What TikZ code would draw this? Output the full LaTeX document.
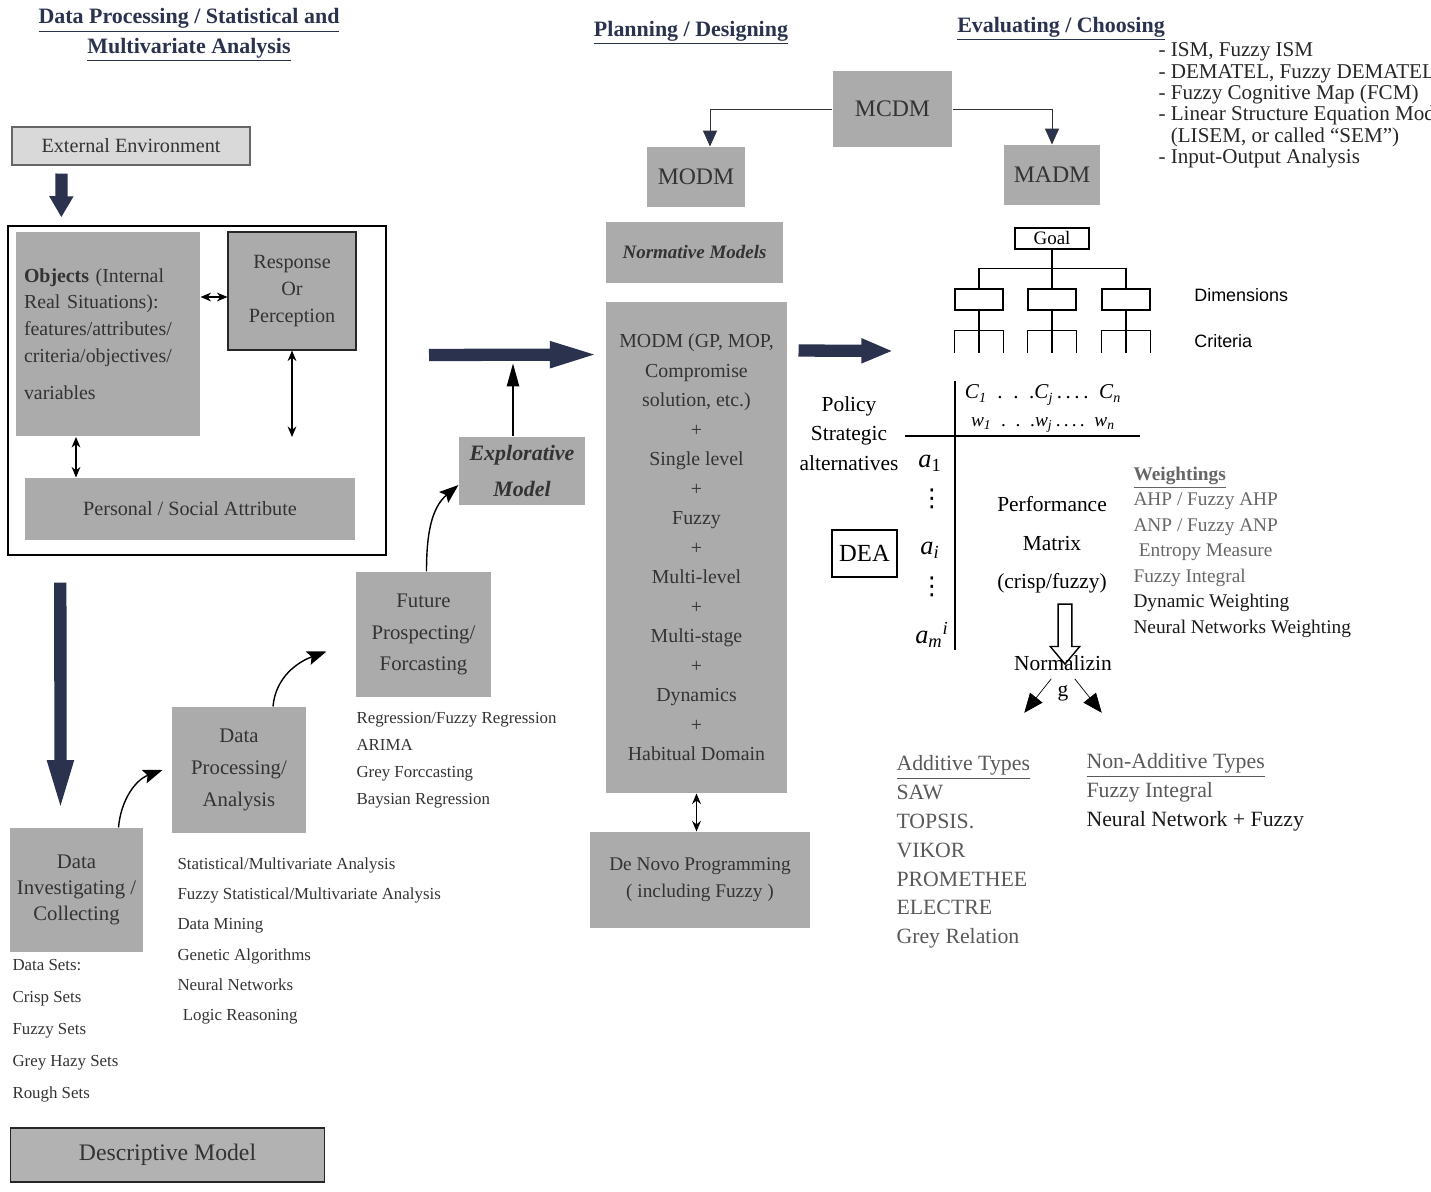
\documentclass[tikz,border=0pt]{standalone}
\usepackage{fontspec}
\setmainfont{Liberation Serif}
\newfontfamily\labelsans{Liberation Sans}
\newfontfamily\dotsfont{DejaVu Sans}
\usetikzlibrary{arrows.meta,positioning,calc,shapes.arrows}
\definecolor{navy}{RGB}{42,50,78}
\newcommand{\isub}[2]{\textit{#1}\textsubscript{\textit{#2}}}

\begin{document}
\begin{tikzpicture}[x=0.02cm, y=-0.02cm, >=Stealth, semithick,
    heading/.style={font=\fontsize{12.5}{17}\selectfont\bfseries, text=navy, align=center},
    shaded/.style={fill=black!33, text=black!80, inner sep=0pt, align=center,
      font=\fontsize{11.5}{15.5}\selectfont},
    framed/.style={shaded, draw=black!85},
    plainbox/.style={draw=black, inner sep=0pt},
    listing/.style={anchor=west, align=left, inner sep=0pt, text=black!80},
    rowlabel/.style={inner sep=0pt, font=\fontsize{15}{17}\selectfont},
    rowdots/.style={inner sep=0pt, font=\dotsfont\fontsize{14}{16}\selectfont},
    bigarrow/.style={line width=7pt, draw=navy, -{Triangle[length=#1,width=13pt]}},
    bigarrow/.default=12pt,
    dblarrow/.style={thick, {Stealth[length=6pt,width=5pt]}-{Stealth[length=6pt,width=5pt]}},
    curvearrow/.style={thick, -{Stealth[length=11pt,width=8pt,inset=2pt]}},
    treearrow/.style={thin, draw=black!80, -{Triangle[length=9pt,width=8pt,fill=navy]}},
    splitarrow/.style={thin, -{Triangle[length=11pt,width=9pt]}},
    hollowarrow/.style={single arrow, draw, thick, fill=white, shape border rotate=270,
      inner sep=3.5pt, single arrow head extend=4.5pt, single arrow tip angle=80,
      minimum height=1.2cm}]
  \useasboundingbox (0,0) rectangle (1431,1192);
  \clip (0,0) rectangle (1431,1192);

  % headings
  \node[heading] at (189,35) (hdata) {\underline{Data Processing / Statistical and}\\\underline{Multivariate Analysis}};
  \node[heading] at (691,33) (hplan) {\underline{Planning / Designing}};
  \node[heading] at (1061,29) (heval) {\underline{Evaluating / Choosing}};

  % descriptive side
  \node[framed, fill=black!15, draw=black!60, minimum width=4.76cm, minimum height=0.76cm] at (131,146) (ext) {External Environment};
  \node[draw=black, thick, minimum width=7.56cm, minimum height=6.58cm] at (197,390.5) (env) {};
  \node[shaded, minimum width=3.68cm, minimum height=4.1cm, text width=3.36cm, align=left,
    font=\fontsize{11.3}{15.2}\selectfont] at (108,334) (obj)
    {\textbf{Objects} (Internal\\Real Situations):\\features/attributes/\\criteria/objectives/\\[6pt]variables};
  \node[framed, minimum width=2.56cm, minimum height=2.36cm] at (292,291) (resp) {Response\\Or\\Perception};
  \node[shaded, minimum width=6.6cm, minimum height=1.24cm] at (190,509) (pers) {Personal / Social Attribute};
  \draw[dblarrow] ([yshift=0.74cm]obj.east) -- ([yshift=0.74cm]obj.east -| resp.west);
  \draw[dblarrow] (resp.south) -- (resp.south |- obj.south);
  \draw[dblarrow] ([xshift=-0.64cm]obj.south) -- ([xshift=-0.64cm]obj.south |- pers.north);
  \draw[bigarrow] ($(ext.south west)+(50,8)$) -- ($(env.north west)+(54,-8)$);

  \node[shaded, minimum width=2.66cm, minimum height=2.48cm, font=\fontsize{11.8}{15}\selectfont] at (76.5,890) (inv) {Data\\Investigating /\\Collecting};
  \node[shaded, minimum width=2.68cm, minimum height=2.52cm, font=\fontsize{11.8}{18}\selectfont] at (239,770) (proc) {Data\\Processing/\\Analysis};
  \node[shaded, minimum width=2.7cm, minimum height=2.5cm, font=\fontsize{11.8}{18}\selectfont] at (423.5,634.5) (fut) {Future\\Prospecting/\\Forcasting};
  \node[shaded, minimum width=2.52cm, minimum height=1.36cm, font=\fontsize{12.5}{20.5}\selectfont\bfseries\itshape] at (522,471) (expl) {Explorative\\Model};
  \node[framed, fill=black!30, minimum width=6.3cm, minimum height=1.08cm, font=\fontsize{13.5}{16}\selectfont] at (167.5,1155) (desc) {Descriptive Model};
  \draw[bigarrow=31pt] ($(env.south west)+(53,27)$) -- ($(inv.north west)+(51,-13)$);
  \draw[curvearrow] ($(inv.north)+(42,0)$) to[out=85,in=200] ($(proc.west)+(-9,0)$);
  \draw[curvearrow] ($(proc.north)+(34,0)$) to[out=85,in=200] ($(fut.west)+(-29,17)$);
  \draw[curvearrow] ($(fut.north)+(3,0)$) to[out=90,in=220] ($(expl.west)+(0,14)$);

  \node[listing, font=\fontsize{9.6}{18.2}\selectfont] at (12,1030.5) (sets) {Data Sets:\\Crisp Sets\\Fuzzy Sets\\Grey Hazy Sets\\Rough Sets};
  \node[listing, font=\fontsize{9.6}{17.2}\selectfont] at (177,941) (stat) {Statistical/Multivariate Analysis\\Fuzzy Statistical/Multivariate Analysis\\Data Mining\\Genetic Algorithms\\Neural Networks\\\hspace{3pt}Logic Reasoning};
  \node[listing, font=\fontsize{9.6}{15.4}\selectfont] at (356,760) (regr) {Regression/Fuzzy Regression\\ARIMA\\Grey Forccasting\\Baysian Regression};

  % planning column
  \node[shaded, minimum width=2.38cm, minimum height=1.52cm, font=\fontsize{13.5}{16}\selectfont] at (892.5,109) (mcdm) {MCDM};
  \node[shaded, minimum width=1.96cm, minimum height=1.2cm, font=\fontsize{13.5}{16}\selectfont] at (696,177) (modm) {MODM};
  \node[shaded, minimum width=1.92cm, minimum height=1.2cm, font=\fontsize{13.5}{16}\selectfont] at (1052,175) (madm) {MADM};
  \draw[treearrow] (mcdm.west) -| ([xshift=0.28cm]modm.north);
  \draw[treearrow] (mcdm.east) -| (madm.north);
  \node[shaded, minimum width=3.54cm, minimum height=1.22cm, font=\fontsize{10.8}{13}\selectfont\bfseries\itshape] at (694.5,252.5) (normod) {Normative Models};
  \node[shaded, minimum width=3.62cm, minimum height=9.82cm, font=\fontsize{11.3}{16.8}\selectfont] at (696.5,547.5) (modmbig)
    {MODM (GP, MOP,\\Compromise\\solution, etc.)\\+\\Single level\\+\\Fuzzy\\+\\Multi-level\\+\\Multi-stage\\+\\Dynamics\\+\\Habitual Domain};
  \node[shaded, minimum width=4.4cm, minimum height=1.92cm, font=\fontsize{11}{15.5}\selectfont] at (700,880) (denovo) {De Novo Programming\\( including Fuzzy )};
  \draw[dblarrow] (modmbig.south) -- (modmbig.south |- denovo.north);
  \coordinate (feed) at (429,355);
  \draw[thick, -{Triangle[length=13pt,width=7pt]}] ($(expl.north)+(-9,0)$) -- ++(0,-73);
  \draw[bigarrow=30pt] (feed) -- ($(modmbig.north west)+(-3,53)$);
  \coordinate (feedr) at (893,351);
  \draw[bigarrow=18pt] ($(modmbig.north east)+(11,49)$) -- (feedr);

  % evaluating side
  \node[listing, text=black!85, font=\fontsize{12}{12.2}\selectfont] at (1158,105.5) (tools)
    {- ISM, Fuzzy ISM\\- DEMATEL, Fuzzy DEMATEL\\- Fuzzy Cognitive Map (FCM)\\- Linear Structure Equation Model\\\hspace{7pt}(LISEM, or called “SEM”)\\- Input-Output Analysis};
  \node[plainbox, minimum width=1.48cm, minimum height=0.42cm, font=\fontsize{10.8}{12}\selectfont] at (1052,238.5) (goal) {Goal};
  \node[plainbox, minimum width=0.96cm, minimum height=0.42cm] at (979,299.5) (dim1) {};
  \node[plainbox, minimum width=0.96cm, minimum height=0.42cm] at (1052,299.5) (dim2) {};
  \node[plainbox, minimum width=0.96cm, minimum height=0.42cm] at (1126,299.5) (dim3) {};
  \draw (goal.south) -- (dim2.north);
  \draw ($(goal.south)+(0,19)$) -| (dim1.north);
  \draw ($(goal.south)+(0,19)$) -| (dim3.north);
  \draw (dim1.south) -- ++(0,42);
  \draw ($(dim1.south west)+(0,42)$) |- ($(dim1.south east)+(0,20)$) -- ++(0,22);
  \draw (dim2.south) -- ++(0,42);
  \draw ($(dim2.south west)+(0,42)$) |- ($(dim2.south east)+(0,20)$) -- ++(0,22);
  \draw (dim3.south) -- ++(0,42);
  \draw ($(dim3.south west)+(0,42)$) |- ($(dim3.south east)+(0,20)$) -- ++(0,22);
  \node[anchor=west, font=\labelsans\fontsize{10.2}{12}\selectfont] at (1188,295) (dimlab) {Dimensions};
  \node[anchor=west, font=\labelsans\fontsize{10.2}{12}\selectfont] at (1188,341) (critlab) {Criteria};

  \draw (955,381) -- (955,650);
  \draw (905,436) -- (1140,436);
  \node[font=\fontsize{12}{14}\selectfont] at (1043,395) (crow)
    {\isub{C}{1}\enspace.\enspace.\enspace.\isub{C}{j}\,.\,.\,.\,.\enspace\isub{C}{n}};
  \node[font=\fontsize{11}{13}\selectfont] at (1043,425) (wrow)
    {\isub{w}{1}\enspace.\enspace.\enspace.\isub{w}{j}\,.\,.\,.\,.\enspace\isub{w}{n}};
  \node[align=center, font=\fontsize{12.2}{16.8}\selectfont] at (849,433.5) (policy) {Policy\\Strategic\\alternatives};
  \node[rowlabel] at (930,463) (a1) {\textit{a}\textsubscript{1}};
  \node[rowdots] at (932,499) (vd1) {⋮};
  \node[rowlabel] at (930,550) (ai) {\textit{a}\textsubscript{\textit{i}}};
  \node[rowdots] at (932,587) (vd2) {⋮};
  \node[rowlabel] at (932,635) (am) {\textit{a}\textsubscript{\textit{m}}\textsuperscript{\textit{i}}};
  \node[plainbox, minimum width=1.3cm, minimum height=0.94cm, font=\fontsize{14}{16}\selectfont] at (864.5,553.5) (dea) {DEA};
  \node[align=center, font=\fontsize{12.2}{22}\selectfont] at (1052,545) (perf) {Performance\\Matrix\\(crisp/fuzzy)};
  \node[hollowarrow] at (1065,630) (normdown) {};
  \node[font=\fontsize{12.2}{14}\selectfont] at (1063,663) (normt) {Normalizin};
  \node[font=\fontsize{12.2}{14}\selectfont] at (1063,693) (normg) {g};
  \draw[splitarrow] (normg.north west) -- ++(-27,34);
  \draw[splitarrow] (normg.north east) -- ++(27,34);

  \node[listing, text=black!60, font=\fontsize{11}{14.5}\selectfont] at (1133,552) (wgt)
    {\textbf{\underline{Weightings}}\\AHP / Fuzzy AHP\\ANP / Fuzzy ANP\\\hspace{3pt}Entropy Measure\\Fuzzy Integral\\\textcolor{black!90}{Dynamic Weighting}\\\textcolor{black!90}{Neural Networks Weighting}};
  \node[listing, text=black!65, font=\fontsize{12.4}{16.4}\selectfont] at (896,852) (addt)
    {\underline{Additive Types}\\SAW\\TOPSIS.\\VIKOR\\PROMETHEE\\ELECTRE\\Grey Relation};
  \node[listing, text=black!65, font=\fontsize{12.4}{16.4}\selectfont] at (1086,792.5) (nonadd)
    {\underline{Non-Additive Types}\\Fuzzy Integral\\\textcolor{black!90}{Neural Network + Fuzzy}};
\end{tikzpicture}
\end{document}
